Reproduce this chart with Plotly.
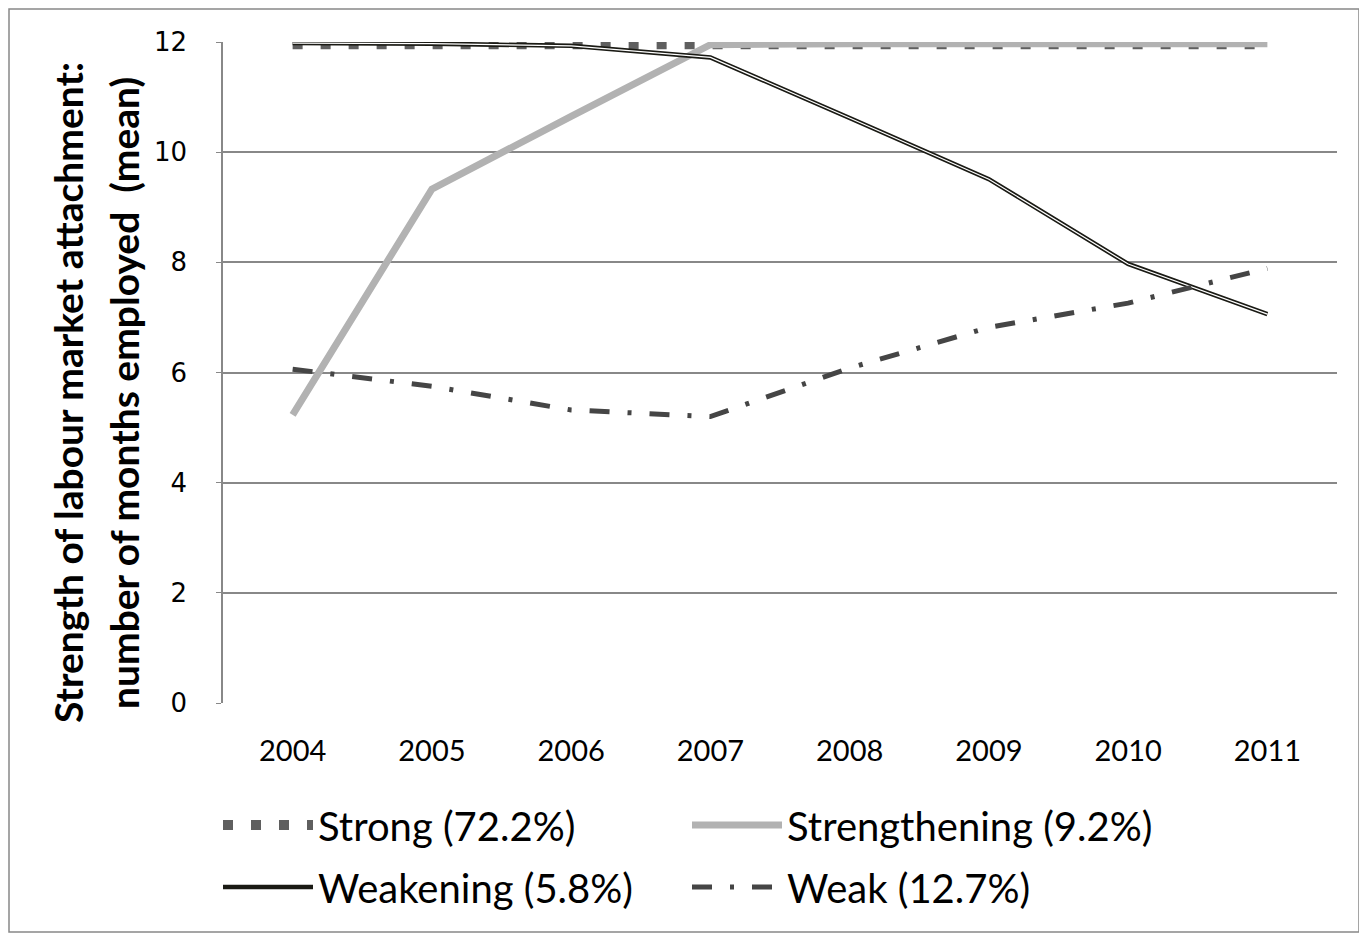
import plotly.graph_objects as go

years = ["2004", "2005", "2006", "2007", "2008", "2009", "2010", "2011"]
strong = [11.96, 11.96, 11.96, 11.96, 11.96, 11.96, 11.96, 11.96]
strengthening = [5.23, 9.33, 10.65, 11.95, 11.97, 11.97, 11.97, 11.97]
weakening = [11.98, 11.97, 11.93, 11.72, 10.62, 9.51, 7.97, 7.06]
weak = [6.06, 5.75, 5.32, 5.2, 6.08, 6.82, 7.26, 7.89]

names = ["Strong (72.2%)", "Strengthening (9.2%)", "Weakening (5.8%)", "Weak (12.7%)"]
title_lines = ["Strength of labour market attachment:", "number of months employed  (mean)"]

fig = go.Figure()
fig.add_trace(go.Scatter(x=years, y=strong, mode="lines", name=names[0], legend="legend",
                         line=dict(color="#5f5f5f", width=10, dash="10px,18px")))
fig.add_trace(go.Scatter(x=years, y=strengthening, mode="lines", name=names[1], legend="legend",
                         line=dict(color="#b2b2b2", width=7)))
fig.add_trace(go.Scatter(x=years, y=weakening, mode="lines", name=names[2], legend="legend2",
                         line=dict(color="#1a1a14", width=4.5)))
fig.add_trace(go.Scatter(x=years, y=weakening, mode="lines", showlegend=False,
                         hoverinfo="skip", line=dict(color="#ffffff", width=1.2)))
fig.add_trace(go.Scatter(x=years, y=weak, mode="lines", name=names[3], legend="legend2",
                         line=dict(color="#454545", width=5, dash="20px,18px,4px,18px")))

PL, PW, PB, PH = 215, 1114, 695, 661  # plot area in figure pixels

def px(xp):
    return (xp - PL) / PW

def py(yp):
    return (PB - yp) / PH

legend_common = dict(orientation="h", xanchor="left", yanchor="middle",
                     font=dict(family="Lato, Open Sans, sans-serif", size=40, color="#000000"),
                     itemwidth=90, entrywidth=364, bgcolor="rgba(0,0,0,0)")

fig.update_layout(
    width=1367, height=939,
    margin=dict(l=215, r=38, t=34, b=244),
    plot_bgcolor="white", paper_bgcolor="white",
    font=dict(family="Lato, Open Sans, sans-serif", color="#000000"),
    xaxis=dict(type="category", range=[-0.5, 7.5], showgrid=False, zeroline=False, showline=False,
               ticks="", tickfont=dict(family="Lato, Open Sans, sans-serif", size=29),
               ticklabelstandoff=28),
    yaxis=dict(range=[0, 12], tickvals=[0, 2, 4, 6, 8, 10, 12],
               showgrid=True, gridcolor="#888888", gridwidth=1.5,
               zeroline=False, showline=True, linecolor="#888888", linewidth=1.5,
               ticks="outside", ticklen=5, tickcolor="#888888",
               tickfont=dict(family="DejaVu Sans", size=26),
               ticklabelstandoff=24),
    legend=dict(x=px(210), y=py(817), **legend_common),
    legend2=dict(x=px(210), y=py(879), **legend_common),
    showlegend=True,
)

for i, line in enumerate(title_lines):
    fig.add_annotation(text="<b>" + line + "</b>", xref="paper", yref="paper",
                       x=px([60, 116][i]), y=py(385), textangle=-90, showarrow=False,
                       xanchor="center", yanchor="middle",
                       font=dict(family="Lato, Open Sans, sans-serif", size=39, color="#000000"))

fig.add_shape(type="rect", xref="paper", yref="paper",
              x0=px(1), x1=px(1351), y0=py(924), y1=py(1),
              line=dict(color="#888888", width=1.5), layer="below")

fig.write_html("out.html")
